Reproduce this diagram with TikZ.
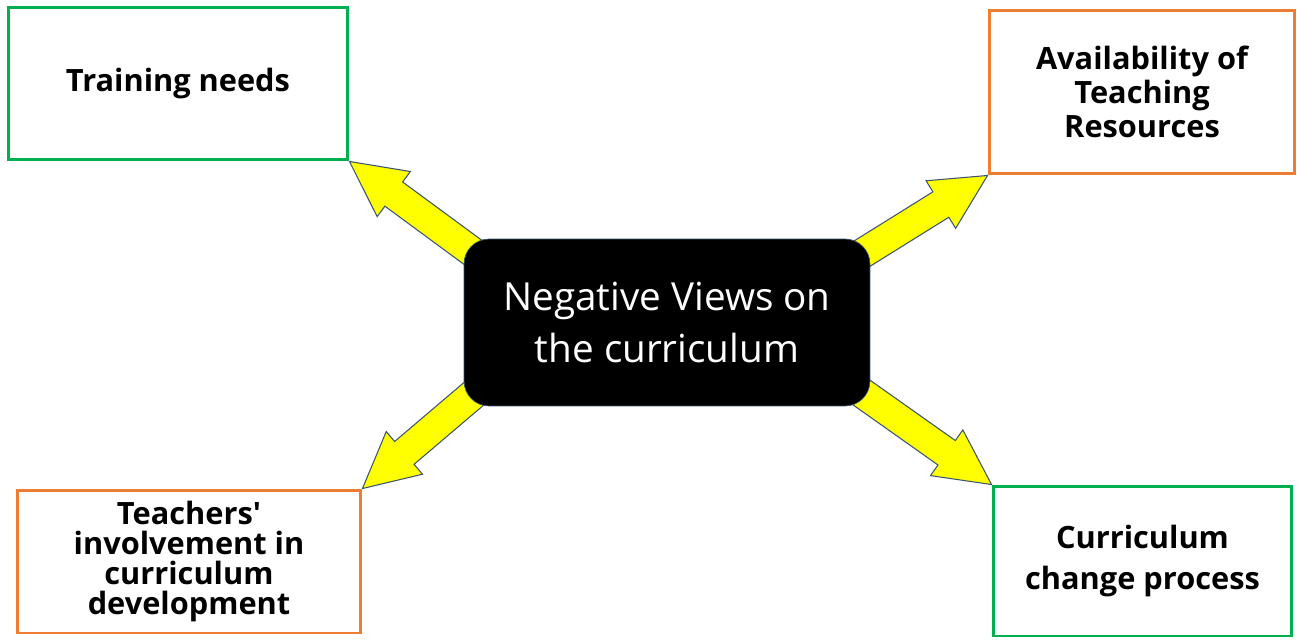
\documentclass[tikz,border=0pt]{standalone}
\usepackage{fontspec}
\setmainfont{Open Sans}
\usetikzlibrary{calc,backgrounds}
\definecolor{vgreen}{HTML}{00B050}
\definecolor{vorange}{HTML}{ED7D31}
\definecolor{vedge}{HTML}{3B5570}
\definecolor{vyellow}{HTML}{FFFF00}

\begin{document}
\begin{tikzpicture}[
    x=0.02cm, y=-0.02cm,
    topic/.style={draw, line width=1.7pt, fill=white, align=center, font=\bfseries\fontsize{17.5}{19.5}\selectfont, inner sep=0pt},
    greenbox/.style={topic, draw=vgreen},
    orangebox/.style={topic, draw=vorange},
    core/.style={draw=vedge, fill=black, rounded corners=0.5cm, text=white, align=center, font=\fontsize{22}{29.5}\selectfont, minimum width=8.12cm, minimum height=3.34cm},
    bigarrow/.style={draw=vedge, fill=vyellow, line width=0.6pt, line join=miter,
      to path={($(\tikztostart)!0.3cm!90:(\tikztotarget)$)
        -- ($(\tikztotarget)!1.1cm!(\tikztostart)!0.3cm!-90:(\tikztostart)$)
        -- ($(\tikztotarget)!1.1cm!(\tikztostart)!0.56cm!-90:(\tikztostart)$)
        -- (\tikztotarget)
        -- ($(\tikztotarget)!1.1cm!(\tikztostart)!0.56cm!90:(\tikztostart)$)
        -- ($(\tikztotarget)!1.1cm!(\tikztostart)!0.3cm!90:(\tikztostart)$)
        -- ($(\tikztostart)!0.3cm!-90:(\tikztotarget)$) -- cycle}}
  ]
    \useasboundingbox (0,0) rectangle (1297,639);

    % Centre
    \node[core] (views) at (667,322.5) {Negative Views on\\the curriculum};

    % Outer boxes
    \node[greenbox, minimum width=6.8cm, minimum height=3.06cm] (training) at (178,83.5) {\raisebox{-3pt}{Training needs}};
    \node[orangebox, minimum width=6.12cm, minimum height=3.28cm] (resources) at (1142,92) {Availability of\\Teaching\\Resources};
    \node[orangebox, minimum width=6.88cm, minimum height=2.86cm, font=\bfseries\fontsize{17.5}{17}\selectfont] (teachers) at (189,561.5) {Teachers\textquotesingle\\involvement in\\curriculum\\development};
    \node[greenbox, minimum width=5.98cm, minimum height=3cm, font=\bfseries\fontsize{17.5}{23.8}\selectfont] (change) at (1142.5,561) {Curriculum\\change process};

    % Arrow tails inside the centre box
    \coordinate (tnw) at ([shift={(26,26)}]views.north west);
    \coordinate (tne) at ([shift={(-26,26)}]views.north east);
    \coordinate (tsw) at ([shift={(26,-26)}]views.south west);
    \coordinate (tse) at ([shift={(-26,-26)}]views.south east);

    % Arrows
    \begin{scope}[on background layer]
      \draw[bigarrow] (tnw) to (training.south east);
      \draw[bigarrow] (tne) to (resources.south west);
      \draw[bigarrow] (tsw) to (teachers.north east);
      \draw[bigarrow] (tse) to (change.north west);
    \end{scope}
  \end{tikzpicture}
\end{document}
